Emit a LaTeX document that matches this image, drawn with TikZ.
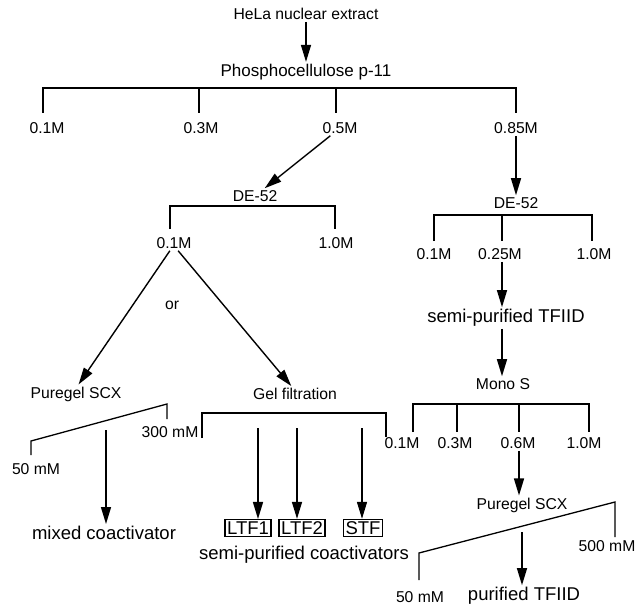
\documentclass[tikz,border=0pt]{standalone}
\usepackage{fontspec}
\setmainfont{Liberation Sans}
\usepackage{tikz}
\usetikzlibrary{arrows.meta}

\begin{document}
\begin{tikzpicture}[
        x=1pt, y=-1pt,
        lbl/.style={font=\fontsize{15.7}{18}\selectfont, inner sep=2pt},
        big/.style={font=\fontsize{18.5}{22}\selectfont, inner sep=2pt},
        fbox/.style={draw, line width=1.3pt, inner sep=2pt, font=\fontsize{18.5}{20}\selectfont},
        arr/.style={line width=1.4pt, -{Triangle[length=17pt, width=10pt]}},
        bar/.style={line width=1.3pt},
        ]
    \useasboundingbox (0,0) rectangle (635,607);

    % phosphocellulose column
    \node (hela) at (306, 14) [lbl] {HeLa nuclear extract};
    \node (pc) at (306, 72) [lbl, font=\fontsize{17}{20}\selectfont] {Phosphocellulose p-11};
    \draw [arr] (hela) -- (pc);

    \draw [bar] (43, 113) |- (516, 88) -- (516, 113);
    \foreach \x in {199, 336} \draw [bar] (\x, 88) -- (\x, 113);
    \node (pc1) at (47, 128) [lbl] {0.1M};
    \node (pc3) at (201, 128) [lbl] {0.3M};
    \node (pc5) at (340, 128) [lbl] {0.5M};
    \node (pc85) at (516, 128) [lbl] {0.85M};

    % DE-52, left branch
    \node (del) at (255, 196) [lbl] {DE-52};
    \draw [arr] (pc5) -- (del);
    \draw [bar] (170, 229) |- (335, 206) -- (335, 229);
    \node (dl1) at (174, 243) [lbl] {0.1M};
    \node (dl10) at (336, 243) [lbl] {1.0M};
    \node (or) at (172, 305) [lbl] {or};

    \node (pgl) at (76, 394) [lbl] {Puregel SCX};
    \node (gel) at (295, 394) [lbl] {Gel filtration};
    \draw [arr] (dl1.-118) -- (pgl.75);
    \draw [arr] (dl1.-62) -- (gel.115);

    % Puregel SCX gradient (left)
    \draw [bar] (31, 455) -- (31, 441) -- (167, 404) -- (167, 419);
    \node (pgl50) at (36, 469) [lbl] {50 mM};
    \node (pgl300) at (170, 432) [lbl] {300 mM};
    \coordinate (pglmid) at (106, 430);
    \node (mixed) at (104, 533) [big] {mixed coactivator};
    \draw [arr] (pglmid) -- (pglmid |- mixed.north);

    % gel filtration fractions
    \draw [bar] (202, 438) |- (386, 413) -- (386, 437);
    \node (ltf1) at (248, 528) [fbox] {LTF1};
    \node (ltf2) at (302, 528) [fbox] {LTF2};
    \node (stf) at (363, 528) [fbox] {STF};
    \coordinate (g1) at (258, 428);
    \coordinate (g2) at (297, 428);
    \coordinate (g3) at (362, 428);
    \draw [arr] (g1) -- (g1 |- ltf1.north);
    \draw [arr] (g2) -- (g2 |- ltf2.north);
    \draw [arr] (g3) -- (g3 |- stf.north);
    \node (coact) at (304, 555) [big] {semi-purified coactivators};

    % DE-52, right branch
    \node (der) at (516, 203) [lbl] {DE-52};
    \draw [arr] (pc85) -- (der);
    \draw [bar] (434, 241) |- (592, 215) -- (592, 241);
    \draw [bar] (502, 215) -- (502, 241);
    \node (dr1) at (434, 254) [lbl] {0.1M};
    \node (dr25) at (500, 254) [lbl] {0.25M};
    \node (dr10) at (594, 254) [lbl] {1.0M};

    \coordinate (ax) at (502, 0);
    \node (semi) at (506, 318) [big] {semi-purified TFIID};
    \draw [arr] (dr25.south -| ax) -- (semi.north -| ax);
    \node (mono) at (503, 384) [lbl] {Mono S};
    \draw [arr] (semi.south -| ax) -- (mono.north -| ax);

    % Mono S fractions
    \draw [bar] (413, 432) |- (589, 404) -- (589, 432);
    \foreach \x in {457, 519} \draw [bar] (\x, 404) -- (\x, 432);
    \node (m1) at (402, 443) [lbl] {0.1M};
    \node (m3) at (455, 443) [lbl] {0.3M};
    \node (m6) at (518, 443) [lbl] {0.6M};
    \node (m10) at (584, 443) [lbl] {1.0M};

    \coordinate (bx) at (519, 0);
    \node (pgr) at (522, 505) [lbl] {Puregel SCX};
    \draw [arr] (m6.south -| bx) -- (pgr.north -| bx);

    % Puregel SCX gradient (right)
    \draw [bar] (419, 580) -- (419, 553) -- (615, 502) -- (615, 537);
    \node (pgr500) at (607, 546) [lbl] {500 mM};
    \node (pgr50) at (420, 597) [lbl] {50 mM};
    \coordinate (pgrmid) at (522, 532);
    \node (tfiid) at (524, 596) [big] {purified TFIID};
    \draw [arr] (pgrmid) -- (pgrmid |- tfiid.north);
\end{tikzpicture}
\end{document}
